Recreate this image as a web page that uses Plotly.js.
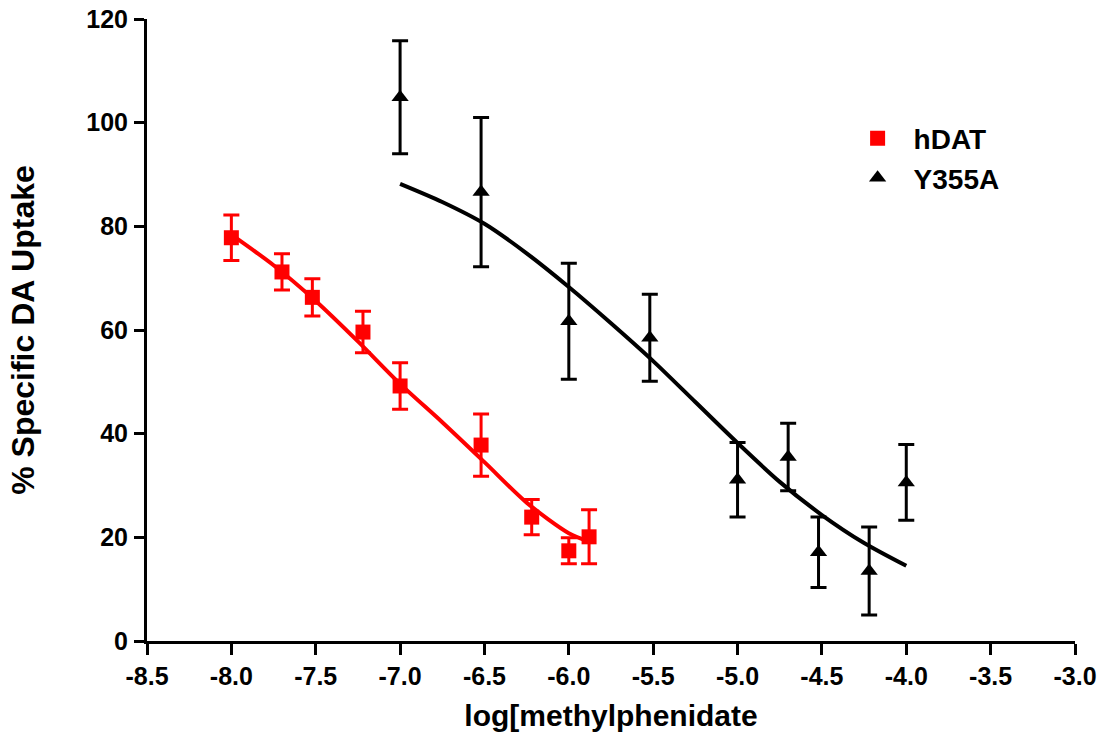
<!DOCTYPE html>
<html>
<head>
<meta charset="utf-8">
<script src="https://cdn.plot.ly/plotly-3.0.1.min.js"></script>
<style>html,body{margin:0;padding:0;background:#fff;}#chart{width:1107px;height:740px;}</style>
</head>
<body>
<div id="chart"></div>
<script>
// hDAT data (log concentration, % uptake, SEM)
const hdatX = [-8.0, -7.7, -7.52, -7.22, -7.0, -6.52, -6.22, -6.0, -5.88];
const hdatY = [77.8, 71.2, 66.3, 59.6, 49.2, 37.8, 23.9, 17.4, 20.1];
const hdatErr = [4.4, 3.5, 3.6, 4.0, 4.5, 6.0, 3.4, 2.5, 5.2];

// Y355A data
const y355aX = [-7.0, -6.52, -6.0, -5.52, -5.0, -4.7, -4.52, -4.22, -4.0];
const y355aY = [104.9, 86.6, 61.7, 58.5, 31.1, 35.5, 17.1, 13.5, 30.6];
const y355aErr = [10.9, 14.4, 11.2, 8.4, 7.2, 6.5, 6.8, 8.5, 7.3];

// fitted curves
const hdatFitX = [-8.0, -7.75, -7.5, -7.25, -7.0, -6.75, -6.5, -6.25, -6.0, -5.88];
const hdatFitY = [78.4, 72.5, 65.6, 57.8, 49.6, 42.2, 34.5, 26.7, 20.8, 19.2];
const y355aFitX = [-7.0, -6.75, -6.5, -6.25, -6.0, -5.75, -5.5, -5.25, -5.0, -4.75, -4.5, -4.25, -4.0];
const y355aFitY = [88.2, 84.7, 80.5, 74.8, 68.3, 61.3, 54.0, 46.1, 38.2, 30.7, 24.3, 18.9, 14.5];

// axis ticks
const xTickVals = [-8.5, -8.0, -7.5, -7.0, -6.5, -6.0, -5.5, -5.0, -4.5, -4.0, -3.5, -3.0];
const xTickText = ["-8.5", "-8.0", "-7.5", "-7.0", "-6.5", "-6.0", "-5.5", "-5.0", "-4.5", "-4.0", "-3.5", "-3.0"];
const yTickVals = [0, 20, 40, 60, 80, 100, 120];

const RED = "#ff0000";
const BLACK = "#000000";
const FONT = "Liberation Sans, Arial, Helvetica, sans-serif";

const traces = [
  {
    x: hdatFitX, y: hdatFitY, type: "scatter", mode: "lines",
    line: {color: RED, width: 4, shape: "spline", smoothing: 0.8},
    showlegend: false, hoverinfo: "skip"
  },
  {
    x: y355aFitX, y: y355aFitY, type: "scatter", mode: "lines",
    line: {color: BLACK, width: 4, shape: "spline", smoothing: 0.8},
    showlegend: false, hoverinfo: "skip"
  },
  {
    x: hdatX, y: hdatY, name: "hDAT", type: "scatter", mode: "markers",
    marker: {symbol: "square", size: 15, color: RED},
    error_y: {type: "data", array: hdatErr, visible: true, color: RED, thickness: 3, width: 8}
  },
  {
    x: y355aX, y: y355aY, name: "Y355A", type: "scatter", mode: "markers",
    marker: {symbol: "triangle-up", size: 15, color: BLACK},
    error_y: {type: "data", array: y355aErr, visible: true, color: BLACK, thickness: 3, width: 8}
  }
];

const layout = {
  width: 1107, height: 740,
  margin: {l: 147, r: 32, t: 19, b: 99},
  paper_bgcolor: "#ffffff", plot_bgcolor: "#ffffff",
  font: {family: FONT, color: "#000", weight: "bold"},
  showlegend: true,
  legend: {
    x: 0.7485, y: 0.848, xanchor: "left", yanchor: "top",
    font: {family: FONT, size: 28, color: "#000", weight: "bold"},
    itemwidth: 62, tracegroupgap: 0, bgcolor: "rgba(0,0,0,0)"
  },
  xaxis: {
    range: [-8.5, -3.0], tickmode: "array", tickvals: xTickVals, ticktext: xTickText,
    showline: true, linecolor: "#000", linewidth: 3, mirror: false,
    ticks: "outside", ticklen: 11, tickwidth: 3, tickcolor: "#000",
    ticklabelstandoff: 0,
    showgrid: false, zeroline: false,
    tickfont: {family: FONT, size: 25, color: "#000", weight: "bold"},
    title: {text: "log[methylphenidate", font: {family: FONT, size: 30, color: "#000", weight: "bold"}, standoff: 16}
  },
  yaxis: {
    range: [0, 120], tickmode: "array", tickvals: yTickVals,
    showline: true, linecolor: "#000", linewidth: 3, mirror: false,
    ticks: "outside", ticklen: 10, tickwidth: 3, tickcolor: "#000",
    ticklabelstandoff: 1,
    showgrid: false, zeroline: false,
    tickfont: {family: FONT, size: 25, color: "#000", weight: "bold"},
    title: {text: "% Specific DA Uptake", font: {family: FONT, size: 32, color: "#000", weight: "bold"}, standoff: 43}
  }
};

Plotly.newPlot("chart", traces, layout, {displayModeBar: false, staticPlot: true});
</script>
</body>
</html>
